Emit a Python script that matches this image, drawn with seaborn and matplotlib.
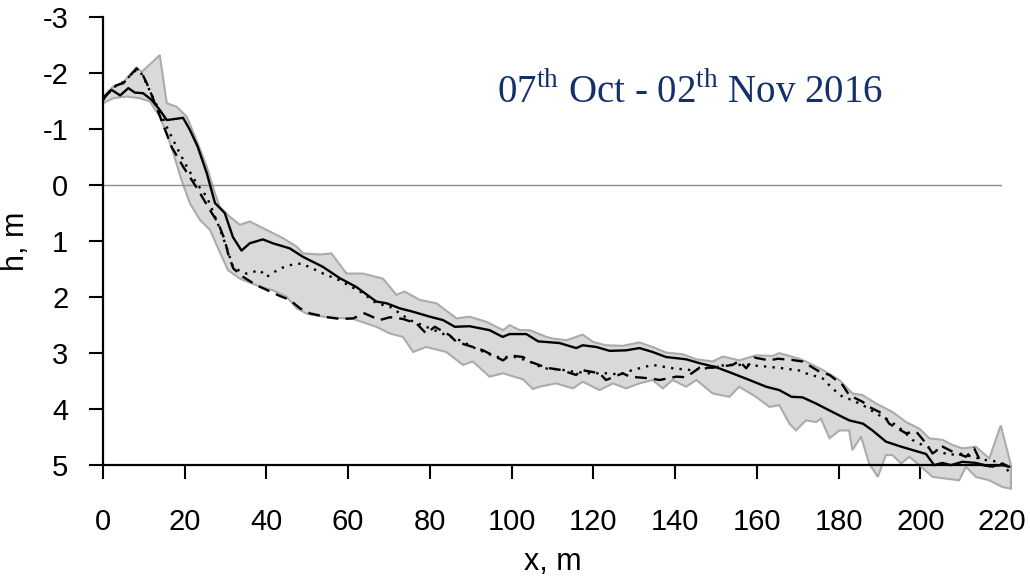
import numpy as np
import pandas as pd
import matplotlib
matplotlib.use("Agg")
import matplotlib.pyplot as plt
import seaborn as sns

# Beach profile elevations h (m) along the cross-shore distance x (m)
solid_x = [0, 2.1, 4.2, 6.2, 7.8, 9.8, 11.9, 13.9, 15.6, 19.6, 21.3, 23.2, 25.4, 27.4, 29.8, 31.8,
           33.9, 35.9, 39.1, 41.6, 45.7, 48.9, 53.8, 57.9, 62, 66.9, 69.4, 72.6, 75.8, 80, 83.2,
           86.1, 89.7, 94.6, 97.8, 99.5, 103.6, 106.5, 111.7, 115.8, 117.4, 120.7, 124, 128,
           131.3, 134.5, 137.8, 142.7, 146, 150, 154, 158.2, 162.3, 165.5, 168.5, 171.2, 174.5,
           178.5, 182.6, 186, 188.3, 191.6, 194.9, 198.1, 201.4, 203.4, 205.4, 207.5, 210.3,
           213.6, 216.9, 220.1, 221.8]
solid_h = [-1.55, -1.7, -1.6, -1.73, -1.65, -1.64, -1.52, -1.34, -1.16, -1.2, -0.98, -0.68, -0.21,
           0.32, 0.5, 0.93, 1.17, 1.04, 0.97, 1.04, 1.13, 1.28, 1.46, 1.66, 1.82, 2.08, 2.11, 2.2,
           2.26, 2.35, 2.41, 2.53, 2.52, 2.59, 2.71, 2.66, 2.66, 2.79, 2.82, 2.91, 2.86, 2.89,
           2.96, 2.95, 2.91, 2.98, 3.07, 3.11, 3.18, 3.25, 3.36, 3.48, 3.6, 3.66, 3.78, 3.79, 3.9,
           4.05, 4.2, 4.26, 4.38, 4.58, 4.66, 4.73, 4.8, 5.0, 4.96, 5.0, 4.94, 4.96, 5.02, 5.0,
           5.03]

dashed_x = [0, 2.5, 5, 8.2, 9.5, 10.7, 11.9, 14.3, 16.8, 19.6, 23.3, 26.2, 28.2, 29.8, 30.6,
            31.9, 34.3, 37.6, 40, 43.3, 45.7, 48.2, 50.6, 55, 58, 61.2, 64, 67.7, 70.2, 73.4,
            76.7, 79.1, 81.2, 84.8, 86.5, 90.5, 93, 96.2, 97.9, 99.5, 102.8, 104.4, 107, 109.3,
            112, 115.8, 117, 121.5, 123.1, 127.2, 128.9, 133.7, 136.2, 140.3, 142.7, 146, 149.2,
            154.1, 155.7, 157.4, 159.4, 163.1, 165.1, 168.5, 171.2, 175.3, 177.8, 181, 182.6,
            185.9, 187.5, 190.8, 192.4, 196.5, 199, 201.4, 203, 205.5, 207.9, 211.2, 213.2,
            215.2, 218.5, 220.1, 221.8]
dashed_h = [-1.52, -1.76, -1.82, -2.08, -2.0, -1.82, -1.61, -1.16, -0.68, -0.33, 0.09, 0.45, 0.68,
            0.98, 1.22, 1.49, 1.64, 1.79, 1.87, 1.98, 2.05, 2.2, 2.29, 2.36, 2.39, 2.38, 2.29,
            2.41, 2.36, 2.39, 2.47, 2.65, 2.53, 2.68, 2.8, 2.89, 2.95, 3.07, 3.13, 3.04, 3.07,
            3.15, 3.22, 3.27, 3.3, 3.39, 3.3, 3.36, 3.48, 3.36, 3.42, 3.45, 3.48, 3.42, 3.43,
            3.26, 3.26, 3.21, 3.14, 3.27, 3.08, 3.13, 3.1, 3.12, 3.15, 3.33, 3.39, 3.57, 3.75,
            3.87, 3.96, 4.08, 4.26, 4.43, 4.4, 4.61, 4.79, 4.67, 4.76, 4.85, 4.7, 5.0, 5.03, 4.97,
            5.03]

dotted_x = [0, 2.5, 5, 8.2, 9.5, 10.7, 12, 14, 15.6, 18, 20.5, 22.9, 25.4, 27.8, 30.2, 31.9,
            35.1, 38.4, 40, 43.3, 45.7, 48.5, 51, 53.9, 57.9, 63.6, 66.9, 70.2, 75.1, 79.1, 84,
            87.3, 91.3, 96.2, 101.1, 104.4, 107.7, 111.7, 115, 119, 123.1, 126.4, 129.7, 134.5,
            139.4, 143.5, 147.6, 152.5, 157.4, 162.3, 166.3, 170.4, 172, 176.1, 178.5, 181,
            183.4, 186.7, 189.2, 192.4, 195.7, 198.1, 200.5, 203.8, 207.1, 209.5, 212.8, 216.1,
            219.3, 221.8]
dotted_h = [-1.52, -1.74, -1.84, -2.06, -1.98, -1.8, -1.6, -1.3, -1.04, -0.68, -0.33, -0.03,
            0.21, 0.63, 1.1, 1.48, 1.58, 1.52, 1.64, 1.49, 1.43, 1.4, 1.48, 1.58, 1.7, 1.93,
            2.11, 2.17, 2.41, 2.53, 2.68, 2.77, 2.92, 3.07, 3.07, 3.15, 3.27, 3.29, 3.33, 3.36,
            3.36, 3.38, 3.3, 3.21, 3.27, 3.3, 3.27, 3.21, 3.21, 3.24, 3.27, 3.31, 3.36, 3.45,
            3.63, 3.78, 3.84, 3.96, 4.08, 4.2, 4.38, 4.55, 4.64, 4.73, 4.82, 4.79, 4.85, 4.91,
            4.94, 5.12]

# Envelope of all surveyed profiles
env_top_x = [0, 2.5, 5, 8.2, 9.5, 13.9, 15.6, 18, 20.5, 22.9, 25.4, 27.4, 28.6, 31.1, 33.5,
             35.9, 40, 44.1, 47.4, 49, 53.1, 55.9, 59.6, 63.6, 68.5, 71.8, 73.8, 77.5, 81.6,
             86.5, 89.7, 93.8, 97.9, 99.5, 102, 104.4, 108.5, 110.1, 113.4, 117.4, 119.9, 123.1,
             127.2, 131.3, 134.5, 137.8, 141.9, 145.2, 149.2, 151.7, 155.7, 159.8, 163.9, 165.5,
             170.4, 172, 176.1, 180.2, 183.4, 185.9, 189.2, 193.2, 196.5, 199.8, 202.2, 205.5,
             207.9, 210.3, 213.6, 216.9, 219.7, 222.2]
env_top_h = [-1.58, -1.76, -1.84, -2.1, -2.02, -2.32, -1.46, -1.4, -1.22, -0.8, -0.33, 0.15,
             0.39, 0.57, 0.71, 0.65, 0.8, 0.95, 1.1, 1.22, 1.24, 1.22, 1.58, 1.58, 1.67, 1.96,
             1.9, 2.05, 2.11, 2.38, 2.35, 2.44, 2.59, 2.5, 2.59, 2.59, 2.71, 2.74, 2.77, 2.67,
             2.8, 2.86, 2.87, 2.81, 2.89, 2.99, 3.02, 3.11, 3.15, 3.06, 3.13, 3.04, 3.05, 3.0,
             3.1, 3.15, 3.3, 3.48, 3.72, 3.75, 3.9, 4.05, 4.23, 4.35, 4.52, 4.55, 4.64, 4.7,
             4.67, 4.88, 4.29, 5.0]
env_bot_x = [0, 2.5, 5.8, 9, 11.5, 13.9, 15.6, 17.2, 19.2, 21.3, 23.7, 26.2, 28.6, 30.6, 33.5,
             37.6, 41.6, 44.9, 47.4, 50, 53.9, 61.2, 66.9, 70.2, 73.4, 75.9, 79.1, 84, 88.1,
             90.5, 94.6, 97.9, 102.8, 105.2, 106.8, 110.9, 115, 117.4, 121.5, 124.8, 128, 131.3,
             134.5, 137, 139.4, 142.7, 145.2, 149.2, 153.3, 155.7, 159.8, 163.1, 165.5, 168,
             169.6, 172, 174.5, 175.7, 177.8, 180.2, 182.6, 183.4, 185.5, 187.5, 189.6, 191.6,
             193.2, 195.3, 197.3, 199.8, 203, 206.3, 209.5, 211.2, 213.6, 216.9, 220.1, 222.2]
env_bot_h = [-1.46, -1.55, -1.58, -1.55, -1.49, -1.22, -0.92, -0.57, -0.09, 0.33, 0.62, 0.8,
             1.2, 1.52, 1.67, 1.79, 1.88, 1.99, 2.2, 2.3, 2.35, 2.39, 2.53, 2.65, 2.71, 2.98,
             2.89, 2.98, 3.21, 3.15, 3.42, 3.36, 3.47, 3.64, 3.6, 3.54, 3.63, 3.51, 3.66, 3.54,
             3.63, 3.54, 3.48, 3.63, 3.48, 3.6, 3.48, 3.72, 3.78, 3.6, 3.78, 3.96, 3.93, 4.26,
             4.38, 4.2, 4.23, 4.17, 4.52, 4.38, 4.38, 4.73, 4.49, 4.97, 5.21, 4.82, 4.82, 4.97,
             4.85, 5.0, 5.21, 5.24, 5.27, 5.03, 5.21, 5.27, 5.39, 5.42]

x_ticks = [0, 20, 40, 60, 80, 100, 120, 140, 160, 180, 200, 220]
h_ticks = [-3, -2, -1, 0, 1, 2, 3, 4, 5]
period_label = r"07$^{\mathrm{th}}$ Oct - 02$^{\mathrm{th}}$ Nov 2016"

sns.set_theme(style="white")
plt.rcParams["font.family"] = ["Liberation Sans", "DejaVu Sans"]
plt.rcParams["axes.unicode_minus"] = False
plt.rcParams["mathtext.fontset"] = "custom"
plt.rcParams["mathtext.rm"] = "Liberation Serif"
plt.rcParams["text.color"] = "black"
plt.rcParams["axes.labelcolor"] = "black"
plt.rcParams["xtick.color"] = "black"
plt.rcParams["ytick.color"] = "black"

fig = plt.figure(figsize=(10.3, 5.8), dpi=100)
ax = fig.add_axes([0.1, 0.198, 0.8728, 0.7727])

# envelope polygon
poly_x = np.r_[env_top_x, env_bot_x[::-1]]
poly_h = np.r_[env_top_h, env_bot_h[::-1]]
ax.fill(poly_x, poly_h, facecolor="#d9d9d9", edgecolor="#ababab", lw=1.5,
        clip_on=False, zorder=1)

ax.axhline(0, xmin=0, xmax=1, color="#8c8c8c", lw=1.0, zorder=1.5)

profiles = {
    "solid": (solid_x, solid_h, None),
    "dashed": (dashed_x, dashed_h, (5, 3)),
    "dotted": (dotted_x, dotted_h, (1.0, 2.6)),
}
for name, (px, ph, dash) in profiles.items():
    df = pd.DataFrame({"x": px, "h": ph})
    sns.lineplot(data=df, x="x", y="h", ax=ax, color="black", lw=1.7,
                 sort=False, estimator=None, zorder=3)
    line = ax.lines[-1]
    line.set_clip_on(False)
    if dash is not None:
        line.set_dashes(dash)

ax.set_xlim(0, 220)
ax.set_ylim(5, -3)
ax.set_xticks(x_ticks)
ax.set_yticks(h_ticks)
ax.set_xticklabels([str(v) for v in x_ticks])
ax.set_yticklabels([str(v) for v in h_ticks])

for side in ["top", "right"]:
    ax.spines[side].set_visible(False)
for side in ["left", "bottom"]:
    ax.spines[side].set_color("black")
    ax.spines[side].set_linewidth(1.6)

ax.tick_params(axis="x", direction="out", length=10, width=1.5, color="black",
               labelcolor="black", labelsize=21, pad=21, bottom=True)
ax.tick_params(axis="y", direction="out", length=10, width=1.5, color="black",
               labelcolor="black", labelsize=21, pad=15, left=True)

ax.set_xlabel("x, m", fontsize=22, labelpad=8, color="black")
ax.set_ylabel("h, m", fontsize=22, color="black")
ax.yaxis.set_label_coords(-0.080, 0.5)

ax.text(96.3, -1.46, period_label, fontsize=28, color="#13306b",
        family=["Liberation Serif", "DejaVu Serif"], ha="left", va="baseline")

fig.savefig("out.png", dpi=100)
